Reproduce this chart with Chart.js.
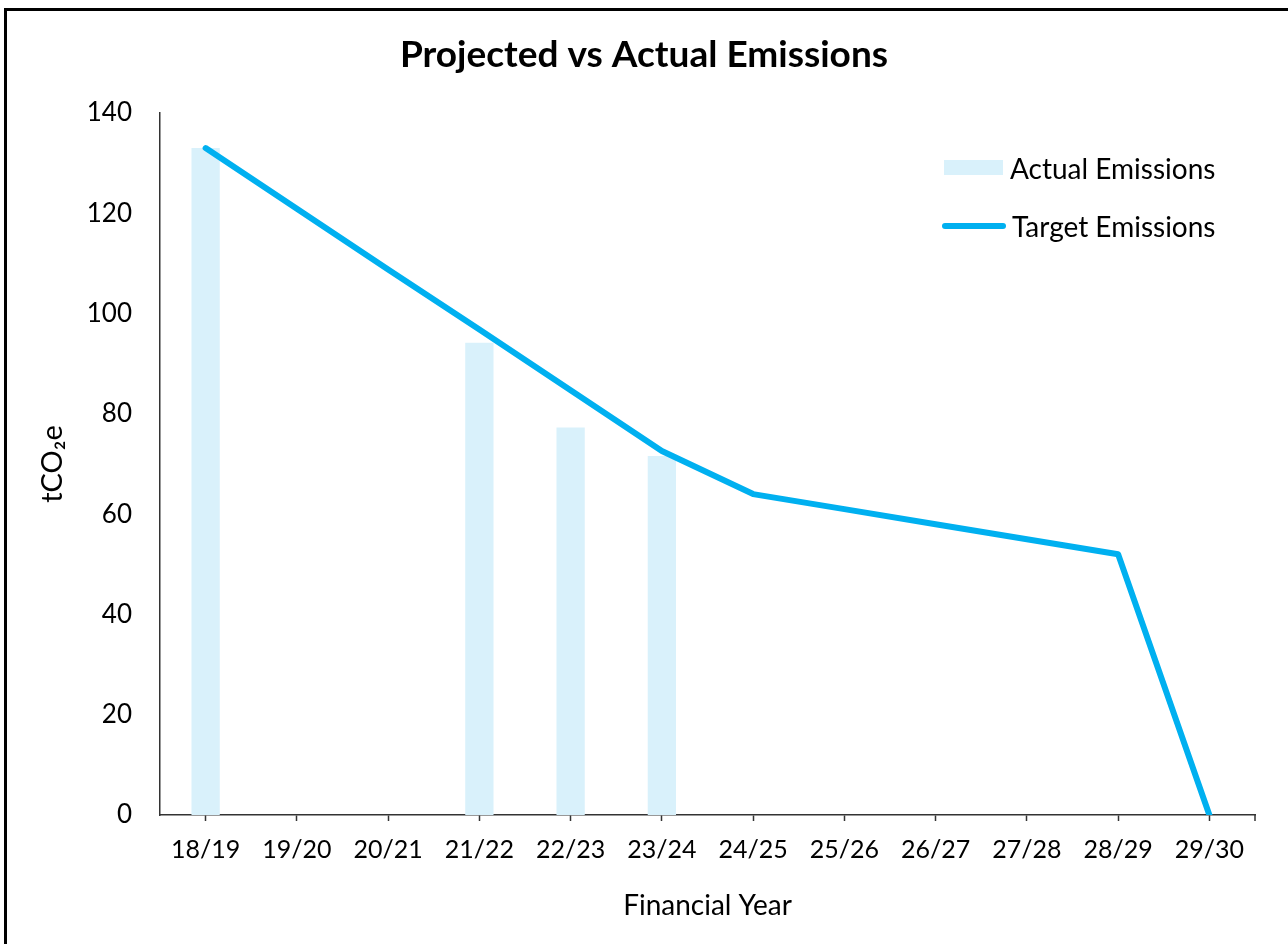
<!DOCTYPE html>
<html lang="en">
<head>
    <meta charset="UTF-8">
    <title>Projected vs Actual Emissions</title>
    <script src="https://cdn.jsdelivr.net/npm/chart.js"></script>
    <style>
        html, body { margin: 0; padding: 0; background: #fff; overflow: hidden; }
        #wrap { position: relative; width: 1288px; height: 944px; }
        #frame {
            position: absolute; left: 4px; top: 8px;
            width: 1300px; height: 960px;
            border: 3px solid #000; box-sizing: border-box;
            pointer-events: none;
        }
        .legend-item {
            position: absolute;
            font-family: Lato, sans-serif;
            font-size: 28px;
            color: #000;
            line-height: 32px;
            white-space: nowrap;
        }
        .legend-swatch { position: absolute; }
    </style>
</head>
<body>
<div id="wrap">
    <canvas id="emissionsChart" width="1288" height="944"></canvas>
    <div id="legend"></div>
    <div id="frame"></div>
</div>

<script>
    const years = ['18/19', '19/20', '20/21', '21/22', '22/23', '23/24',
                   '24/25', '25/26', '26/27', '27/28', '28/29', '29/30'];
    const actualEmissions = [133, null, null, 94.2, 77.3, 71.6, null, null, null, null, null, null];
    const targetEmissions = [133, 120.9, 108.8, 96.8, 84.7, 72.6, 64, 61, 58, 55, 52, 0];

    const barColor = '#d9f1fb';
    const lineColor = '#00b0f0';
    const axisColor = '#333333';
    const fontFamily = 'Lato, sans-serif';

    // little closing tick at the right end of the x axis
    const endTick = {
        id: 'endTick',
        afterDraw(chart) {
            const { ctx, chartArea } = chart;
            ctx.save();
            ctx.strokeStyle = axisColor;
            ctx.lineWidth = 1.5;
            ctx.beginPath();
            ctx.moveTo(chartArea.right, chartArea.bottom);
            ctx.lineTo(chartArea.right, chartArea.bottom + 6);
            ctx.stroke();
            ctx.restore();
        }
    };

    const ctx = document.getElementById('emissionsChart').getContext('2d');

    const chart = new Chart(ctx, {
        type: 'bar',
        data: {
            labels: years,
            datasets: [
                {
                    type: 'bar',
                    label: 'Actual Emissions',
                    data: actualEmissions,
                    backgroundColor: barColor,
                    borderWidth: 0,
                    barPercentage: 0.31,
                    categoryPercentage: 1,
                    order: 2
                },
                {
                    type: 'line',
                    label: 'Target Emissions',
                    data: targetEmissions,
                    borderColor: lineColor,
                    backgroundColor: lineColor,
                    borderWidth: 6,
                    borderCapStyle: 'round',
                    borderJoinStyle: 'round',
                    pointRadius: 0,
                    tension: 0,
                    fill: false,
                    order: 1
                }
            ]
        },
        options: {
            responsive: false,
            animation: false,
            layout: { padding: 0 },
            plugins: {
                legend: { display: false },
                tooltip: { enabled: false },
                title: {
                    display: true,
                    text: 'Projected vs Actual Emissions',
                    color: '#000',
                    font: { family: fontFamily, size: 37, weight: 'bold', lineHeight: 1.2 },
                    padding: { top: 33, bottom: 35.6 }
                }
            },
            scales: {
                x: {
                    offset: true,
                    afterFit: (scale) => { scale.height = 129; },
                    grid: {
                        drawOnChartArea: false,
                        offset: false,
                        tickLength: 6,
                        tickWidth: 1.5,
                        tickColor: axisColor
                    },
                    border: { display: true, color: axisColor, width: 1.5 },
                    ticks: {
                        color: '#000',
                        padding: 14,
                        maxRotation: 0,
                        font: { family: fontFamily, size: 25 }
                    },
                    title: {
                        display: true,
                        text: 'Financial Year',
                        color: '#000',
                        font: { family: fontFamily, size: 28, lineHeight: 1.2 },
                        padding: { top: 0, bottom: 21 }
                    }
                },
                y: {
                    min: 0,
                    max: 140,
                    afterFit: (scale) => { scale.width = 160; },
                    grid: { display: false, drawTicks: false },
                    border: { display: true, color: axisColor, width: 1.5 },
                    ticks: {
                        stepSize: 20,
                        color: '#000',
                        padding: 28,
                        font: { family: fontFamily, size: 26 }
                    },
                    title: {
                        display: true,
                        text: 'tCO₂e',
                        color: '#000',
                        font: { family: fontFamily, size: 29, lineHeight: 1.2 },
                        padding: { top: 35, bottom: 0 }
                    }
                },
                // empty right-hand axis, only keeps a margin so the title stays centred on the page
                yRight: {
                    position: 'right',
                    min: 0,
                    max: 140,
                    afterFit: (scale) => { scale.width = 33; },
                    grid: { display: false, drawTicks: false },
                    border: { display: false },
                    ticks: { display: false }
                }
            }
        },
        plugins: [endTick]
    });

    // legend drawn inside the plot area, top right
    const legendEl = document.getElementById('legend');
    const legendSpots = [
        { swatch: { left: 944, top: 160, width: 59, height: 15, radius: 0 }, textLeft: 1010, textMid: 168 },
        { swatch: { left: 942, top: 223, width: 64, height: 6, radius: 3 }, textLeft: 1012, textMid: 226 }
    ];
    chart.data.datasets.forEach((ds, i) => {
        const spot = legendSpots[i];
        const sw = document.createElement('div');
        sw.className = 'legend-swatch';
        sw.style.left = spot.swatch.left + 'px';
        sw.style.top = spot.swatch.top + 'px';
        sw.style.width = spot.swatch.width + 'px';
        sw.style.height = spot.swatch.height + 'px';
        sw.style.borderRadius = spot.swatch.radius + 'px';
        sw.style.background = ds.type === 'line' ? ds.borderColor : ds.backgroundColor;
        legendEl.appendChild(sw);

        const txt = document.createElement('div');
        txt.className = 'legend-item';
        txt.textContent = ds.label;
        txt.style.left = spot.textLeft + 'px';
        txt.style.top = (spot.textMid - 16) + 'px';
        legendEl.appendChild(txt);
    });
</script>
</body>
</html>
